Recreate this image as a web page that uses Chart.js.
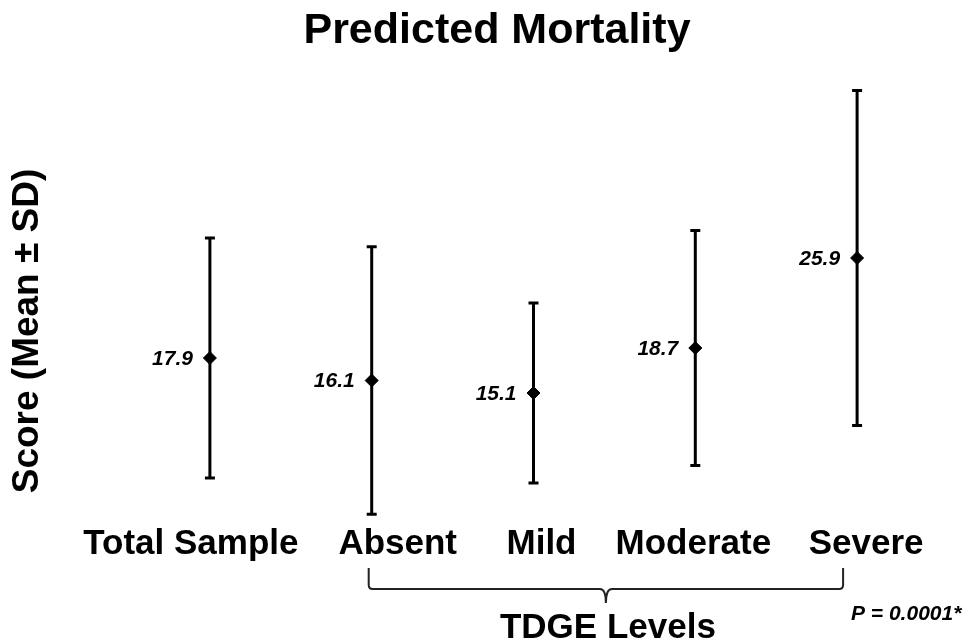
<!DOCTYPE html>
<html>
<head>
<meta charset="utf-8">
<script src="https://cdn.jsdelivr.net/npm/chart.js@4/dist/chart.umd.min.js"></script>
<style>
  html, body { margin: 0; padding: 0; background: #ffffff; }
  #wrap { position: relative; width: 970px; height: 642px; }
</style>
</head>
<body>
<div id="wrap"><canvas id="c" width="970" height="642"></canvas></div>
<script>
// ---- Data ----
const categories = ["Total Sample", "Absent", "Mild", "Moderate", "Severe"];
const means = [17.9, 16.1, 15.1, 18.7, 25.9];
const sds = [9.6, 10.7, 7.2, 9.4, 13.4];
const groupLabel = "TDGE Levels";
const groupedCategories = ["Absent", "Mild", "Moderate", "Severe"];
const pValueText = "P = 0.0001*";
const chartTitle = "Predicted Mortality";
const yAxisTitle = "Score (Mean \u00B1 SD)";

// ---- Styling (not data) ----
const FONT = '"Liberation Sans", Arial, Helvetica, sans-serif';
const labelNudge = [-19, 26, 8, -2, 9];

const annotate = {
  id: 'annotate',
  beforeDatasetsDraw(chart) {
    const ctx = chart.ctx;
    const x = chart.scales.x, y = chart.scales.y;
    ctx.save();
    ctx.strokeStyle = '#000';
    ctx.lineWidth = 3;
    ctx.lineCap = 'butt';
    means.forEach((m, i) => {
      const px = x.getPixelForValue(i);
      const top = y.getPixelForValue(m + sds[i]);
      const bot = y.getPixelForValue(m - sds[i]);
      ctx.beginPath();
      ctx.moveTo(px, top); ctx.lineTo(px, bot);
      ctx.moveTo(px - 5, top); ctx.lineTo(px + 5, top);
      ctx.moveTo(px - 5, bot); ctx.lineTo(px + 5, bot);
      ctx.stroke();
    });
    ctx.restore();
  },
  afterDraw(chart) {
    const ctx = chart.ctx;
    const x = chart.scales.x, y = chart.scales.y;
    ctx.save();
    ctx.fillStyle = '#000';
    // title
    ctx.font = 'bold 43px ' + FONT;
    ctx.textAlign = 'center';
    ctx.textBaseline = 'alphabetic';
    ctx.fillText(chartTitle, 497, 43);
    // value labels
    ctx.font = 'italic bold 21px ' + FONT;
    ctx.textAlign = 'right';
    ctx.textBaseline = 'middle';
    means.forEach((m, i) => {
      ctx.fillText(m.toFixed(1), x.getPixelForValue(i) - 17, y.getPixelForValue(m) + 1);
    });
    // category labels
    ctx.font = 'bold 35px ' + FONT;
    ctx.textAlign = 'center';
    ctx.textBaseline = 'alphabetic';
    categories.forEach((c, i) => {
      ctx.fillText(c, x.getPixelForValue(i) + labelNudge[i], 554);
    });
    // y axis title
    ctx.save();
    ctx.translate(38, 331);
    ctx.rotate(-Math.PI / 2);
    ctx.font = 'bold 37px ' + FONT;
    ctx.textAlign = 'center';
    ctx.textBaseline = 'alphabetic';
    ctx.fillText(yAxisTitle, 0, 0);
    ctx.restore();
    // bracket
    const i0 = categories.indexOf(groupedCategories[0]);
    const i1 = categories.indexOf(groupedCategories[groupedCategories.length - 1]);
    const L = x.getPixelForValue(i0) - 3;
    const R = x.getPixelForValue(i1) - 14;
    const M = (L + R) / 2;
    const topY = 568, hY = 589, tipY = 603, r = 4;
    ctx.strokeStyle = '#222';
    ctx.lineWidth = 2;
    ctx.beginPath();
    ctx.moveTo(L, topY);
    ctx.lineTo(L, hY - r);
    ctx.quadraticCurveTo(L, hY, L + r, hY);
    ctx.lineTo(M - 6, hY);
    ctx.quadraticCurveTo(M, hY, M, tipY);
    ctx.quadraticCurveTo(M, hY, M + 6, hY);
    ctx.lineTo(R - r, hY);
    ctx.quadraticCurveTo(R, hY, R, hY - r);
    ctx.lineTo(R, topY);
    ctx.stroke();
    // group label
    ctx.font = 'bold 35px ' + FONT;
    ctx.textAlign = 'center';
    ctx.fillText(groupLabel, M + 2, 638);
    // p value
    ctx.font = 'italic bold 21px ' + FONT;
    ctx.textAlign = 'left';
    ctx.fillText(pValueText, 851, 620);
    ctx.restore();
  }
};

new Chart(document.getElementById('c'), {
  type: 'line',
  data: {
    labels: categories,
    datasets: [{
      data: means,
      showLine: false,
      pointStyle: 'rectRot',
      pointRadius: 6.5,
      pointHoverRadius: 6.5,
      pointBackgroundColor: '#000',
      pointBorderColor: '#000',
      pointBorderWidth: 1
    }]
  },
  options: {
    responsive: false,
    animation: false,
    events: [],
    layout: { padding: { left: 129, right: 32, top: 56.75, bottom: 110.25 } },
    plugins: { legend: { display: false }, title: { display: false }, tooltip: { enabled: false } },
    scales: {
      x: { type: 'category', offset: true, display: false },
      y: { min: 4, max: 42, display: false }
    }
  },
  plugins: [annotate]
});
</script>
</body>
</html>
